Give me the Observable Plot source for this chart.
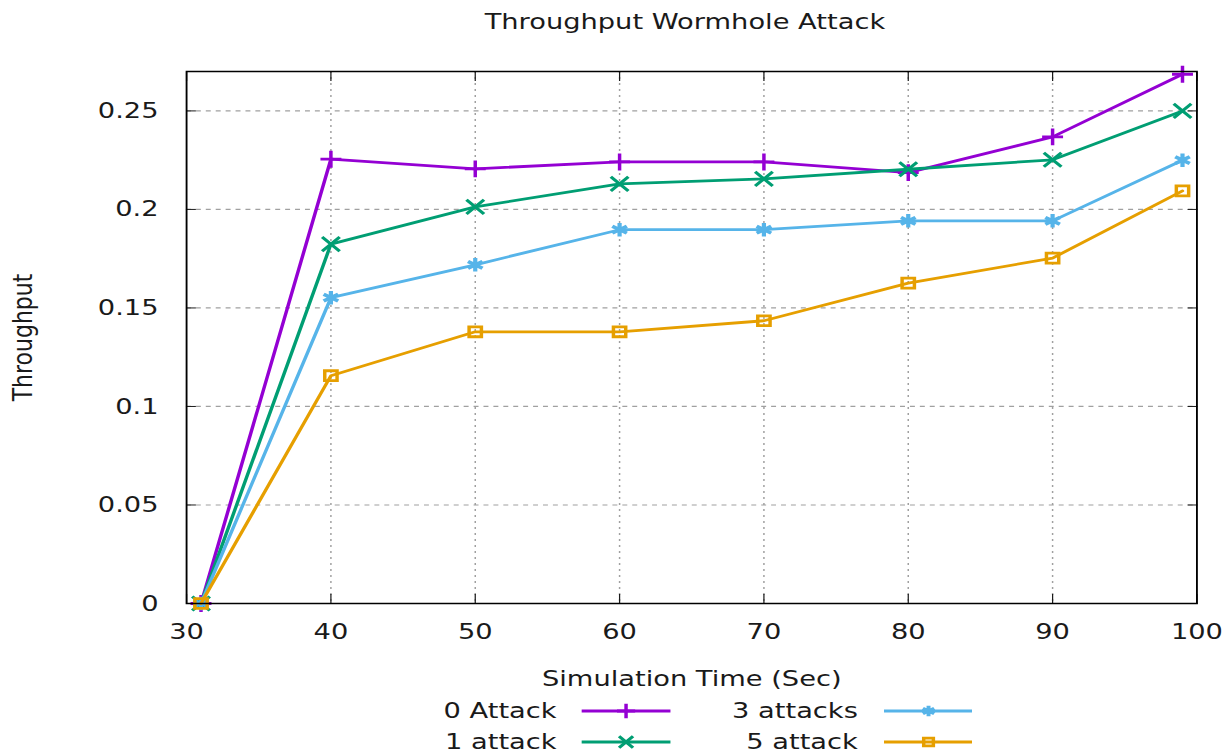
<!DOCTYPE html>
<html><head><meta charset="utf-8">
<script src="https://cdn.jsdelivr.net/npm/d3@7"></script>
<script src="https://cdn.jsdelivr.net/npm/@observablehq/plot@0.6"></script>
<style>
html,body{margin:0;padding:0;background:#fff;overflow:hidden;}
#stage{width:993px;transform:scaleX(1.2397);transform-origin:0 0;font-family:"DejaVu Sans",sans-serif;color:#1a1a1a;}
#title{height:40px;box-sizing:border-box;padding-top:11px;padding-left:140px;width:965px;line-height:22px;font-size:22px;text-align:center;white-space:nowrap;}
#legend{display:grid;grid-template-columns:449px 92px 151px 92px;grid-auto-rows:31px;font-size:22px;line-height:31px;}
#legend .lab{text-align:right;white-space:nowrap;}
#legend .sw{display:flex;align-items:center;}
#legend .sw.c1 svg{margin-left:20px;}
#legend .sw.c2 svg{margin-left:21px;}
</style>
</head><body>
<div id="stage">
  <div id="title"></div>
  <div id="chart"></div>
  <div id="legend"></div>
</div>
<script>
// ---- data ----
const chartTitle = "Throughput Wormhole Attack";
const xLabel = "Simulation Time (Sec)";
const yLabel = "Throughput";
const times = [31, 40, 50, 60, 70, 80, 90, 99];
const attack0 = [0, 0.2255, 0.2206, 0.2241, 0.2241, 0.2187, 0.2368, 0.2686];
const attack1 = [0, 0.1824, 0.2013, 0.2130, 0.2155, 0.2204, 0.2252, 0.2500];
const attack3 = [0, 0.1552, 0.1719, 0.1897, 0.1897, 0.1942, 0.1942, 0.2250];
const attack5 = [0, 0.1156, 0.1379, 0.1379, 0.1435, 0.1626, 0.1753, 0.2094];
const seriesNames = ["0 Attack", "1 attack", "3 attacks", "5 attack"];
const seriesColors = ["#9400d3", "#009e73", "#56b4e9", "#e69f00"];
const seriesSymbols = ["plus", "times", "asterisk", "square"];
const seriesValues = [attack0, attack1, attack3, attack5];
const xTicks = [30, 40, 50, 60, 70, 80, 90, 100];
const xTickLabels = ["30", "40", "50", "60", "70", "80", "90", "100"];
const yTicks = [0, 0.05, 0.1, 0.15, 0.2, 0.25];
const yTickLabels = ["0", "0.05", "0.1", "0.15", "0.2", "0.25"];
const xDomain = [30, 100];
const yDomain = [0, 0.27];

const symbolR = {plus: 5.5, times: 6.5, asterisk: 6.4, square: 5.6};
const legendR = {plus: 4.8, times: 5.2, asterisk: 5.0, square: 4.4};

document.getElementById("title").textContent = chartTitle;

const marks = [
  Plot.gridX({ticks: xTicks.slice(1, -1), stroke: "#a0a0a0", strokeOpacity: 1, strokeWidth: 1.2, strokeDasharray: "2,4"}),
  Plot.gridY({ticks: yTicks.slice(1), stroke: "#a0a0a0", strokeOpacity: 1, strokeWidth: 1.2, strokeDasharray: "4,4"})
];
seriesNames.forEach((name, s) => {
  const data = times.map((t, i) => ({t, v: seriesValues[s][i], name}));
  marks.push(Plot.line(data, {x: "t", y: "v", stroke: seriesColors[s], strokeWidth: 2.8}));
  marks.push(Plot.dot(data, {x: "t", y: "v", symbol: seriesSymbols[s], r: symbolR[seriesSymbols[s]],
    stroke: seriesColors[s], fill: "none", strokeWidth: seriesSymbols[s] === "asterisk" ? 3.4 : 2.8}));
});
marks.push(
  Plot.axisX({ticks: xTicks, tickSize: -9, tickPadding: 29, tickFormat: d => xTickLabels[xTicks.indexOf(d)],
    label: xLabel, labelAnchor: "center", labelArrow: "none", labelOffset: 82}),
  Plot.axisX({anchor: "top", ticks: xTicks, tickSize: -9, tickFormat: () => "", label: null}),
  Plot.axisY({ticks: yTicks, tickSize: -8, tickPadding: 30.6, tickFormat: d => yTickLabels[yTicks.indexOf(d)],
    label: yLabel, labelAnchor: "center", labelArrow: "none", labelOffset: 140}),
  Plot.axisY({anchor: "right", ticks: yTicks, tickSize: -8, tickFormat: () => "", label: null}),
  Plot.frame({stroke: "black", strokeWidth: 1.5})
);

const chart = Plot.plot({
  width: 993,
  height: 655,
  marginLeft: 150,
  marginRight: 28,
  marginTop: 31,
  marginBottom: 92,
  x: {domain: xDomain},
  y: {domain: yDomain},
  style: {fontFamily: "DejaVu Sans, sans-serif", fontSize: "22px", color: "#1a1a1a", background: "white", overflow: "visible"},
  marks
});
document.getElementById("chart").appendChild(chart);

// legend (column-major, two rows)
const legend = d3.select("#legend");
const order = [0, 2, 1, 3];
const symbolTypes = {plus: d3.symbolPlus, times: d3.symbolTimes, asterisk: d3.symbolAsterisk, square: d3.symbolSquare};
order.forEach((s, k) => {
  const col = k % 2 === 0 ? "c1" : "c2";
  legend.append("div").attr("class", "lab").text(seriesNames[s]);
  const cell = legend.append("div").attr("class", "sw " + col);
  const svg = cell.append("svg").attr("width", 72).attr("height", 20);
  svg.append("line").attr("x1", 0).attr("x2", 72).attr("y1", 10).attr("y2", 10)
    .attr("stroke", seriesColors[s]).attr("stroke-width", 2.8);
  const r = legendR[seriesSymbols[s]];
  svg.append("path").attr("transform", "translate(36,10)")
    .attr("d", d3.symbol(symbolTypes[seriesSymbols[s]], r * r * Math.PI)())
    .attr("fill", "none").attr("stroke", seriesColors[s]).attr("stroke-width", seriesSymbols[s] === "asterisk" ? 3.2 : 2.8);
});
</script>
</body></html>
